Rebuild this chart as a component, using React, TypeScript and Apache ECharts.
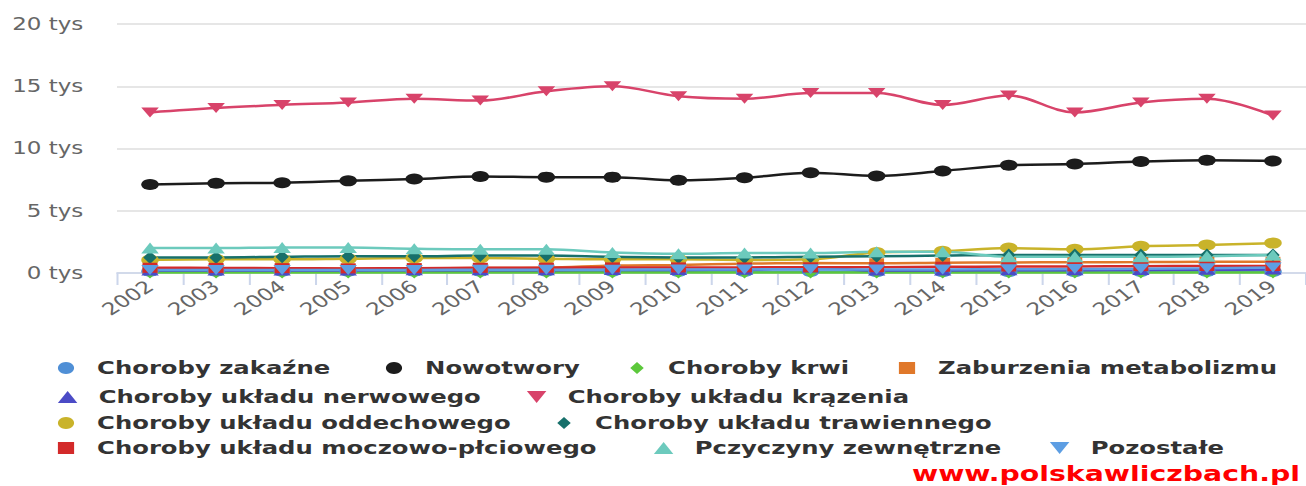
import React, { useEffect, useRef } from 'react';
import * as echarts from 'echarts';

// ---------- data ----------
const years = ['2002', '2003', '2004', '2005', '2006', '2007', '2008', '2009', '2010', '2011', '2012', '2013', '2014', '2015', '2016', '2017', '2018', '2019'];

const chorobyZakazne = [150, 150, 140, 140, 140, 140, 140, 140, 130, 130, 130, 110, 110, 110, 110, 120, 120, 130];
const nowotwory = [7100, 7200, 7250, 7400, 7550, 7750, 7700, 7700, 7450, 7650, 8050, 7800, 8200, 8650, 8750, 8950, 9050, 9000];
const chorobyKrwi = [40, 40, 40, 40, 40, 40, 40, 40, 40, 40, 40, 40, 40, 40, 40, 40, 40, 40];
const zaburzeniaMetabolizmu = [330, 340, 340, 350, 370, 400, 420, 600, 650, 750, 800, 780, 820, 850, 860, 880, 900, 900];
const nerwowego = [200, 200, 210, 210, 220, 230, 230, 240, 250, 260, 450, 200, 210, 220, 230, 250, 260, 280];
const krazenia = [12900, 13250, 13500, 13700, 14000, 13850, 14600, 15000, 14200, 14000, 14450, 14450, 13500, 14250, 12900, 13700, 14000, 12650];
const oddechowego = [1050, 1100, 1100, 1150, 1200, 1200, 1150, 1100, 1100, 1050, 1100, 1650, 1750, 2000, 1900, 2150, 2250, 2400];
const trawiennego = [1250, 1250, 1300, 1350, 1350, 1400, 1400, 1300, 1250, 1250, 1300, 1350, 1400, 1450, 1450, 1450, 1450, 1450];
const moczowoPlciowego = [420, 410, 390, 370, 390, 420, 430, 450, 450, 450, 460, 470, 500, 520, 530, 550, 560, 560];
const zewnetrzne = [2000, 2000, 2050, 2050, 1950, 1900, 1900, 1650, 1550, 1600, 1600, 1700, 1700, 1300, 1300, 1300, 1350, 1450];
const pozostale = [250, 250, 250, 250, 250, 260, 260, 270, 280, 290, 300, 280, 290, 300, 320, 340, 380, 450];

const yTicks = [0, 5000, 10000, 15000, 20000];

// ---------- layout (reference picture is horizontally stretched) ----------
const W0 = 967;
const H = 486;
const SX = 1306 / W0;
const u = (x: number) => x / SX;

const TRI_UP = 'path://M0,10L6,0L12,10Z';
const TRI_DOWN = 'path://M0,0L12,0L6,10Z';
const DIAMOND = 'path://M5,0L10,6L5,12L0,6Z';
const SQUARE = 'path://M0,0L10,0L10,10L0,10Z';

const defs = [
  { name: 'Choroby zakaźne', data: chorobyZakazne, color: '#4f8fd6', symbol: 'circle', size: [13, 11], icon: 'circle', iw: 12, row: 0, ix: 66 },
  { name: 'Nowotwory', data: nowotwory, color: '#1c1c1c', symbol: 'circle', size: [13, 11], icon: 'circle', iw: 12, row: 0, ix: 394 },
  { name: 'Choroby krwi', data: chorobyKrwi, color: '#5cc83b', symbol: 'diamond', size: [10, 12], icon: DIAMOND, iw: 10, row: 0, ix: 637 },
  { name: 'Zaburzenia metabolizmu', data: zaburzeniaMetabolizmu, color: '#e0782a', symbol: 'rect', size: [11, 10], icon: SQUARE, iw: 12, row: 0, ix: 907 },
  { name: 'Choroby układu nerwowego', data: nerwowego, color: '#4b4bc6', symbol: 'triangle', size: [13, 10], icon: TRI_UP, iw: 12, row: 1, ix: 66 },
  { name: 'Choroby układu krązenia', data: krazenia, color: '#d8436a', symbol: 'path://M0,0L12,0L6,10Z', size: [13, 10], icon: TRI_DOWN, iw: 12, row: 1, ix: 535 },
  { name: 'Choroby układu oddechowego', data: oddechowego, color: '#c9b32a', symbol: 'circle', size: [13, 11], icon: 'circle', iw: 12, row: 2, ix: 66 },
  { name: 'Choroby układu trawiennego', data: trawiennego, color: '#17706b', symbol: 'diamond', size: [10, 13], icon: DIAMOND, iw: 10, row: 2, ix: 564 },
  { name: 'Choroby układu moczowo-płciowego', data: moczowoPlciowego, color: '#d32a2a', symbol: 'rect', size: [11, 10], icon: SQUARE, iw: 12, row: 3, ix: 66 },
  { name: 'Pczyczyny zewnętrzne', data: zewnetrzne, color: '#6ccabd', symbol: 'triangle', size: [13, 11], icon: TRI_UP, iw: 12, row: 3, ix: 662 },
  { name: 'Pozostałe', data: pozostale, color: '#5d9ee3', symbol: 'path://M0,0L12,0L6,10Z', size: [13, 10], icon: TRI_DOWN, iw: 12, row: 3, ix: 1058 },
];

const rowY = [369, 398, 424, 449];

export default function App() {
  const ref = useRef<HTMLDivElement>(null);
  useEffect(() => {
    if (!ref.current) return;
    const chart = echarts.init(ref.current, undefined, { renderer: 'svg', width: W0, height: H });
    const font = 'DejaVu Sans';
    chart.setOption({
      animation: false,
      backgroundColor: '#ffffff',
      textStyle: { fontFamily: font },
      grid: { left: u(117), right: -3, top: 24, bottom: H - 273, containLabel: false },
      xAxis: {
        type: 'category',
        data: years,
        boundaryGap: true,
        axisLine: { lineStyle: { color: '#ccd6eb', width: 1.5 } },
        axisTick: { show: true, length: 12, lineStyle: { color: '#ccd6eb', width: 1.5 } },
        axisLabel: { interval: 0, rotate: 40, margin: 11, color: '#666666', fontSize: 17, fontFamily: font },
        splitLine: { show: false },
      },
      yAxis: {
        type: 'value',
        min: yTicks[0],
        max: yTicks[yTicks.length - 1],
        interval: 5000,
        axisLine: { show: false },
        axisTick: { show: false },
        axisLabel: {
          margin: 25,
          color: '#666666',
          fontSize: 17,
          fontFamily: font,
          formatter: (v: number) => `${v / 1000} tys`,
        },
        splitLine: { lineStyle: { color: '#e6e6e6', width: 2 } },
      },
      legend: defs.map((d) => ({
        left: u(d.ix) - d.iw / 2,
        top: rowY[d.row] - 10,
        padding: 0,
        itemWidth: 36,
        itemHeight: 12,
        selectedMode: false,
        data: [{ name: d.name, icon: d.icon }],
        textStyle: { fontFamily: font, fontWeight: 'bold', fontSize: 18, color: '#333333' },
      })),
      graphic: [
        {
          type: 'text',
          left: u(912),
          top: 463,
          style: {
            text: 'www.polskawliczbach.pl',
            fill: '#ff0000',
            font: `bold 21px "${font}"`,
          },
        },
      ],
      series: defs.map((d) => ({
        name: d.name,
        type: 'line',
        data: d.data,
        smooth: 0.35,
        symbol: d.symbol,
        symbolSize: d.size,
        showSymbol: true,
        color: d.color,
        lineStyle: { width: 2.5, color: d.color },
        itemStyle: { color: d.color },
        emphasis: { disabled: true },
      })),
    });
    return () => chart.dispose();
  }, []);
  return (
    <div
      ref={ref}
      style={{
        position: 'absolute',
        left: 0,
        top: 0,
        width: W0,
        height: H,
        transform: `scaleX(${SX})`,
        transformOrigin: '0 0',
        overflow: 'hidden',
      }}
    />
  );
}
